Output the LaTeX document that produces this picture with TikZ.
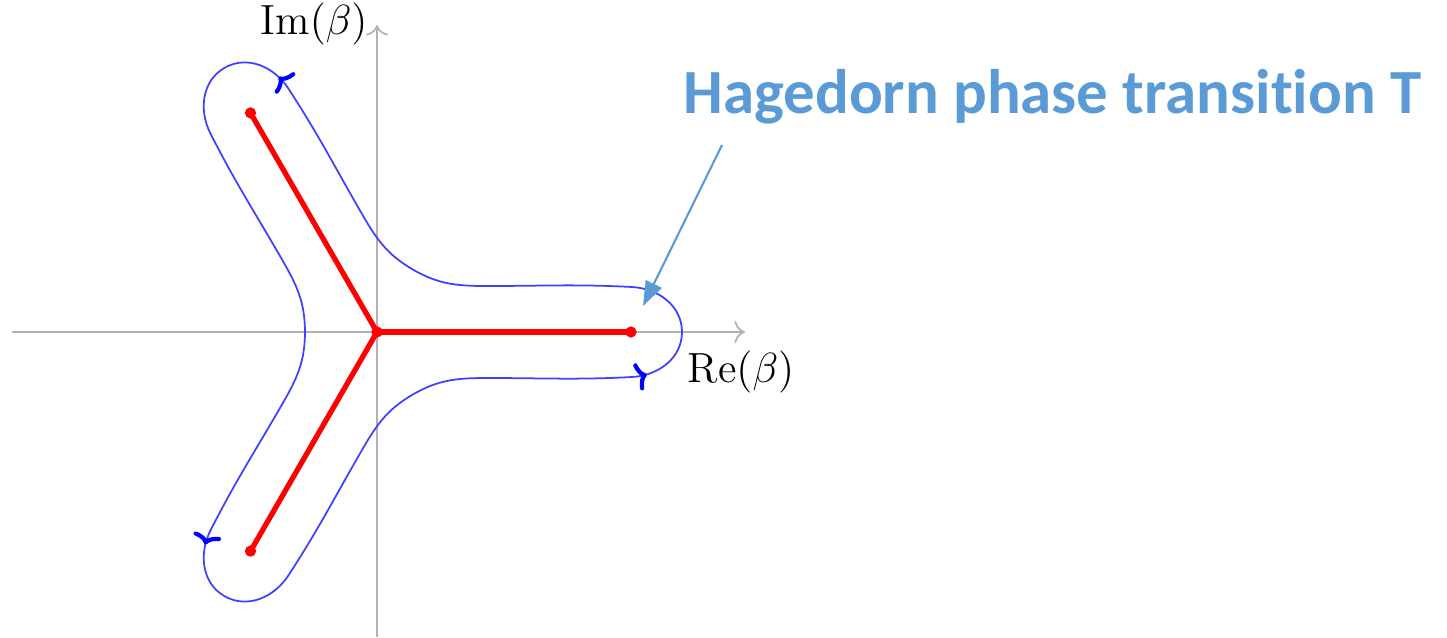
\documentclass[tikz,border=0pt]{standalone}
\usepackage{fontspec}
\usepackage{xcolor}
\usepackage{tikz}
\usetikzlibrary{arrows.meta,decorations.markings}
\newfontfamily\calloutfont[Ligatures=NoCommon]{Carlito}
\definecolor{callblue}{HTML}{5B9BD5}

\begin{document}
\begin{tikzpicture}[
  axis/.style={black!30, line width=0.5pt, -{To[length=3pt]}},
  cut/.style={red, line width=1.5pt},
  branchdot/.style={red, fill=red},
  loop/.style={blue!75, line width=0.5pt,
               postaction={decorate},
               decoration={markings, mark=at position 0.40 with
                 {\arrow[blue, line width=1.2pt]{Computer Modern Rightarrow[length=3pt, width=8pt]}}}},
  callout/.style={font=\calloutfont\bfseries\fontsize{17.9}{21}\selectfont,
                  text=callblue, inner sep=0pt},
  pointer/.style={callblue, line width=0.6pt, -{Triangle[length=7pt, width=5pt]}}
]
  \useasboundingbox (-3.77,-3.05) rectangle (10.70,3.32);
  % Axes
  \coordinate (xl) at (-3.65,0);
  \coordinate (xr) at (3.68,0);
  \coordinate (yb) at (0,-3.05);
  \coordinate (yt) at (0,3.07);
  \draw[axis] (xl) -- (xr);
  \draw[axis] (yb) -- (yt);
  \node[font=\large] (relab) at (3.64,-0.40) {$\mathrm{Re}(\beta)$};
  \node[font=\large] (imlab) at (-0.63,3.08) {$\mathrm{Im}(\beta)$};
  % Branch points and cuts
  \coordinate (O) at (0,0);
  \coordinate (b1) at (0:2.54);
  \coordinate (b2) at (120:2.53);
  \coordinate (b3) at (240:2.53);
  % Contour, one lobe per branch
  \foreach \a in {0,120,240}
    \draw[loop, rotate=\a] (0.36,-0.624) to[out=30,in=180] (1.1,-0.46)
      to[out=0,in=-177] (2.55,-0.45) to[out=3,in=-90] (3.05,0)
      to[out=90,in=-3] (2.55,0.45) to[out=177,in=0] (1.1,0.46)
      to[out=180,in=-30] (0.36,0.624);
  \draw[cut] (O) -- (b1);
  \draw[cut] (O) -- (b2);
  \draw[cut] (O) -- (b3);
  \foreach \p in {O,b1,b2,b3}
    \fill[branchdot] (\p) circle (1.6pt);
  % Callout
  \node[callout, anchor=base west] (title) at (3.06,2.19) {Hagedorn phase transition T};
  \coordinate (tail) at (3.45,1.87);
  \coordinate (tip) at (2.66,0.26);
  \draw[pointer] (tail) -- (tip);
\end{tikzpicture}
\end{document}
